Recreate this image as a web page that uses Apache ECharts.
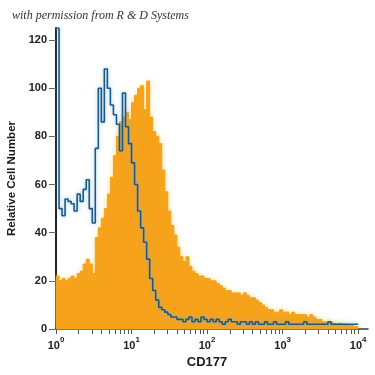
<!DOCTYPE html>
<html>
<head>
<meta charset="utf-8">
<script src="https://cdn.jsdelivr.net/npm/echarts@6/dist/echarts.min.js"></script>
<style>html,body{margin:0;padding:0;background:#fff}#c{width:375px;height:375px}</style>
</head>
<body>
<div id="c"></div>
<script>
// Histogram bins: log10(CD177) from 0 to 4, bin width 0.04 (bin start = index * binWidth)
const binWidth = 0.04;
const cd177Stained = [
  22, 20, 21, 20, 21, 22, 21, 23, 24, 27,
  29, 27, 23, 38, 42, 46, 50, 56, 63, 72,
  80, 86, 88, 90, 87, 94, 97, 100, 101, 91,
  103, 88, 82, 80, 77, 66, 57, 49, 43, 39,
  34, 30, 28, 30, 26, 24, 23, 22, 22, 21,
  21, 20, 20, 19, 18, 17, 16, 16, 15, 15,
  15, 14, 15, 14, 13, 13, 12, 11, 10, 9,
  8, 8, 7, 7, 8, 7, 7, 6, 7, 6,
  6, 6, 6, 5, 6, 5, 4, 4, 3, 3,
  3, 2.5, 2, 2.5, 2, 2, 1.5, 1.5, 1, 1
];
const isotypeControl = [
  125, 50, 47, 54, 53, 52, 49, 56, 53, 58,
  62, 50, 44, 75, 100, 86, 108, 100, 93, 89,
  85, 74, 98, 84, 77, 69, 60, 49, 42, 36,
  29, 21, 16, 12, 9, 8, 7, 6, 5, 5,
  4, 4, 3, 4, 5, 3, 4, 3, 5, 4,
  3, 4, 3, 4, 3, 2, 3, 4, 3, 3,
  2, 3, 3, 2, 3, 2, 3, 2, 2, 3,
  2, 2, 3, 2, 2, 2, 3, 2, 2, 2,
  2, 2, 3, 2, 2, 2, 2, 2, 2, 2,
  3, 2, 2, 2, 2, 2, 2, 2, 2, 2
];
const xTickValues = [1,2,3,4,5,6,7,8,9,10,20,30,40,50,60,70,80,90,100,200,300,400,500,600,700,800,900,1000,2000,3000,4000,5000,6000,7000,8000,9000,10000];
const xLabelDecades = [0, 1, 2, 3, 4];
const yTickValues = [0, 20, 40, 60, 80, 100, 120];

function toSteps(vals) {
  const pts = vals.map((v, i) => [i * binWidth, v]);
  pts.push([vals.length * binWidth, vals[vals.length - 1]]);
  return pts;
}

const FONT = "'Liberation Sans',Arial,sans-serif";
const chart = echarts.init(document.getElementById('c'), null, {renderer: 'canvas'});
chart.setOption({
  animation: false,
  backgroundColor: '#ffffff',
  grid: {left: 56, right: 7, top: 28, bottom: 46, containLabel: false, outerBoundsMode: 'none'},
  graphic: [{
    type: 'text', left: 12, top: 10,
    style: {text: 'with permission from R & D Systems', font: "italic 12px 'Liberation Serif', serif", fill: '#333'}
  }],
  xAxis: {
    type: 'value', min: 0, max: 4.13,
    name: 'CD177', nameLocation: 'middle', nameGap: 21,
    nameTextStyle: {fontFamily: FONT, fontSize: 13, fontWeight: 'bold', color: '#1a1a1a', padding: [0, 10, 0, 0]},
    axisLine: {show: true, onZero: false, lineStyle: {color: '#333', width: 1.5}},
    axisTick: {show: true, customValues: xTickValues.map(v => Math.log10(v)), length: 5, lineStyle: {color: '#555', width: 1}},
    axisLabel: {
      customValues: xLabelDecades, margin: 7,
      formatter: v => '{b|10}{s|' + v + '}',
      rich: {
        b: {fontFamily: FONT, fontSize: 11, fontWeight: 'bold', color: '#222', lineHeight: 15, verticalAlign: 'bottom'},
        s: {fontFamily: FONT, fontSize: 8, fontWeight: 'bold', color: '#222', verticalAlign: 'top', lineHeight: 9}
      }
    },
    splitLine: {show: false}
  },
  yAxis: {
    type: 'value', min: 0, max: 125,
    name: 'Relative Cell Number', nameLocation: 'middle', nameGap: 37,
    nameTextStyle: {fontFamily: FONT, fontSize: 11.5, fontWeight: 'bold', color: '#1a1a1a'},
    axisLine: {show: true, lineStyle: {color: '#1c2230', width: 2}},
    axisTick: {show: true, customValues: yTickValues, length: 7, lineStyle: {color: '#666', width: 1}},
    axisLabel: {customValues: yTickValues, margin: 9, fontFamily: FONT, fontSize: 11, fontWeight: 'bold', color: '#222'},
    splitLine: {show: false}
  },
  series: [
    {
      name: 'CD177', type: 'line', step: 'end', symbol: 'none', z: 2,
      data: toSteps(cd177Stained),
      lineStyle: {color: '#f6a11c', width: 1},
      areaStyle: {color: '#f7a21b', opacity: 1, shadowBlur: 6, shadowColor: 'rgba(250,220,140,0.9)'}
    },
    {
      name: 'Isotype', type: 'line', step: 'end', symbol: 'none', z: 3,
      data: toSteps(isotypeControl),
      lineStyle: {color: '#1b5a84', width: 1.6, shadowBlur: 4, shadowColor: 'rgba(120,180,230,0.7)'}
    }
  ]
});
</script>
</body>
</html>
